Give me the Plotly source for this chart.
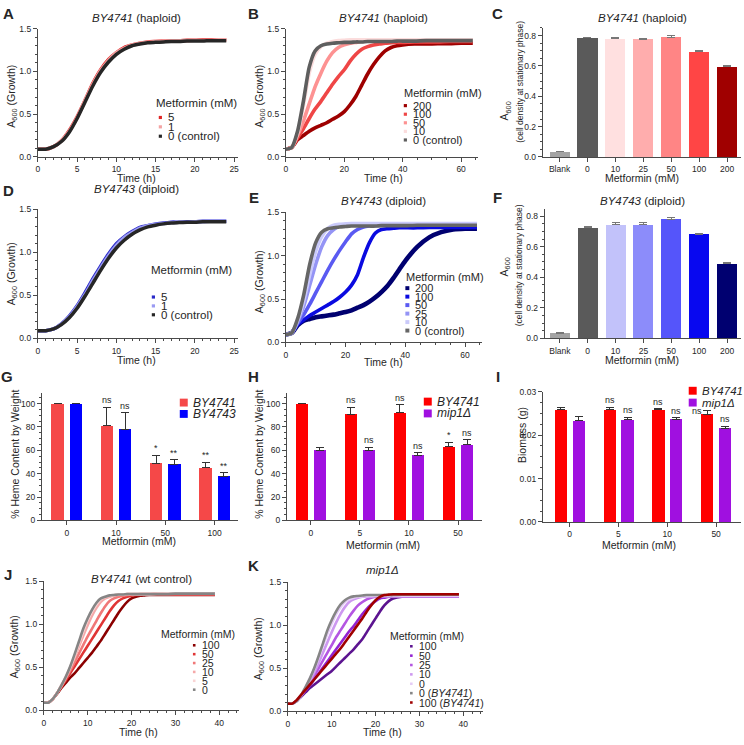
import plotly.graph_objects as go

W, H = 744, 745
FONT = "Liberation Sans, Arial, sans-serif"
INK = "#262626"
AX = "#4a4a4a"

# ================= DATA =================
# Panels A / D : time (h)
t_AD = list(range(0, 25))
A_5 = [0.09, 0.09, 0.12, 0.19, 0.31, 0.47, 0.66, 0.86, 1.02, 1.14, 1.22, 1.28, 1.31, 1.33, 1.345, 1.35, 1.355, 1.36, 1.36, 1.365, 1.365, 1.37, 1.37, 1.37, 1.37]
A_1 = [0.09, 0.09, 0.12, 0.19, 0.30, 0.46, 0.66, 0.85, 1.01, 1.13, 1.22, 1.27, 1.31, 1.33, 1.34, 1.35, 1.355, 1.36, 1.36, 1.36, 1.365, 1.365, 1.365, 1.37, 1.37]
A_0 = [0.09, 0.09, 0.12, 0.18, 0.29, 0.45, 0.64, 0.83, 0.99, 1.11, 1.20, 1.26, 1.30, 1.32, 1.335, 1.34, 1.345, 1.35, 1.35, 1.355, 1.355, 1.355, 1.36, 1.36, 1.36]
D_5 = [0.09, 0.09, 0.11, 0.17, 0.26, 0.38, 0.53, 0.69, 0.84, 0.98, 1.10, 1.18, 1.24, 1.29, 1.31, 1.33, 1.34, 1.35, 1.35, 1.355, 1.355, 1.36, 1.36, 1.36, 1.36]
D_1 = [0.09, 0.09, 0.11, 0.17, 0.25, 0.37, 0.51, 0.67, 0.82, 0.96, 1.08, 1.17, 1.23, 1.28, 1.31, 1.325, 1.335, 1.345, 1.35, 1.35, 1.355, 1.355, 1.36, 1.36, 1.36]
D_0 = [0.09, 0.09, 0.11, 0.16, 0.24, 0.35, 0.49, 0.64, 0.79, 0.93, 1.05, 1.14, 1.21, 1.26, 1.295, 1.315, 1.33, 1.34, 1.345, 1.35, 1.35, 1.355, 1.355, 1.355, 1.355]

# Panels B / E : time (h)
t_BE = [0, 2, 4, 6, 8, 10, 12, 14, 16, 18, 20, 22, 24, 26, 28, 30, 32, 34, 36, 38, 40, 44, 48, 52, 56, 60, 64]
B_200 = [0.09, 0.11, 0.20, 0.25, 0.30, 0.34, 0.37, 0.40, 0.44, 0.48, 0.53, 0.61, 0.71, 0.84, 0.97, 1.08, 1.17, 1.24, 1.28, 1.30, 1.31, 1.32, 1.32, 1.325, 1.325, 1.33, 1.33]
B_100 = [0.09, 0.11, 0.22, 0.33, 0.45, 0.56, 0.65, 0.75, 0.85, 0.94, 1.02, 1.12, 1.20, 1.26, 1.29, 1.31, 1.32, 1.33, 1.335, 1.34, 1.34, 1.345, 1.345, 1.345, 1.35, 1.35, 1.35]
B_50 = [0.09, 0.11, 0.25, 0.42, 0.62, 0.82, 0.98, 1.12, 1.22, 1.28, 1.31, 1.33, 1.34, 1.35, 1.355, 1.36, 1.36, 1.36, 1.36, 1.36, 1.365, 1.365, 1.365, 1.365, 1.365, 1.365, 1.365]
B_10 = [0.09, 0.11, 0.28, 0.60, 0.98, 1.20, 1.29, 1.33, 1.35, 1.36, 1.365, 1.37, 1.37, 1.37, 1.37, 1.37, 1.37, 1.37, 1.37, 1.37, 1.37, 1.37, 1.37, 1.37, 1.37, 1.37, 1.37]
B_0 = [0.09, 0.11, 0.30, 0.65, 1.05, 1.24, 1.30, 1.32, 1.33, 1.335, 1.34, 1.34, 1.345, 1.345, 1.35, 1.35, 1.35, 1.35, 1.35, 1.355, 1.355, 1.355, 1.36, 1.36, 1.36, 1.36, 1.36]
E_200 = [0.09, 0.11, 0.20, 0.25, 0.27, 0.29, 0.30, 0.31, 0.32, 0.335, 0.35, 0.37, 0.40, 0.43, 0.47, 0.52, 0.58, 0.65, 0.74, 0.84, 0.94, 1.10, 1.21, 1.27, 1.30, 1.31, 1.31]
E_100 = [0.09, 0.11, 0.21, 0.26, 0.31, 0.35, 0.39, 0.43, 0.47, 0.52, 0.58, 0.66, 0.78, 0.98, 1.15, 1.26, 1.30, 1.31, 1.315, 1.32, 1.32, 1.32, 1.325, 1.325, 1.325, 1.325, 1.325]
E_50 = [0.09, 0.11, 0.22, 0.32, 0.44, 0.57, 0.70, 0.83, 0.95, 1.06, 1.16, 1.25, 1.30, 1.33, 1.34, 1.345, 1.35, 1.35, 1.35, 1.35, 1.355, 1.355, 1.355, 1.355, 1.355, 1.355, 1.355]
E_25 = [0.09, 0.11, 0.24, 0.42, 0.66, 0.90, 1.10, 1.23, 1.30, 1.34, 1.35, 1.36, 1.36, 1.365, 1.365, 1.365, 1.365, 1.365, 1.365, 1.365, 1.365, 1.365, 1.365, 1.365, 1.365, 1.365, 1.365]
E_10 = [0.09, 0.11, 0.26, 0.48, 0.78, 1.05, 1.22, 1.31, 1.35, 1.36, 1.365, 1.37, 1.37, 1.37, 1.37, 1.37, 1.37, 1.37, 1.37, 1.37, 1.37, 1.37, 1.37, 1.37, 1.37, 1.37, 1.37]
E_0 = [0.09, 0.11, 0.28, 0.55, 0.90, 1.15, 1.27, 1.31, 1.32, 1.33, 1.335, 1.34, 1.34, 1.34, 1.34, 1.34, 1.345, 1.345, 1.345, 1.345, 1.345, 1.35, 1.35, 1.35, 1.35, 1.35, 1.35]

# Panels C / F : stationary-phase A600
cat_CF = ["Blank", "0", "10", "25", "50", "100", "200"]
C_val = [0.035, 0.785, 0.780, 0.775, 0.790, 0.695, 0.595]
C_err = [0.002, 0.003, 0.008, 0.006, 0.010, 0.005, 0.005]
C_sig = ["", "", "ns", "ns", "ns", "****", "****"]
C_pct = ["", "", "", "", "", "-12%", "-24%"]
F_val = [0.035, 0.725, 0.745, 0.745, 0.780, 0.680, 0.487]
F_err = [0.003, 0.005, 0.012, 0.015, 0.010, 0.008, 0.010]
F_sig = ["", "", "ns", "ns", "***", "**", "****"]
F_pct = ["", "", "", "", "+8%", "-6%", "-33%"]

# Panel G : heme content
cat_G = ["0", "10", "50", "100"]
G_4741 = [100, 81, 49, 45]
G_4741_err = [0, 16, 7, 5]
G_4741_sig = ["", "ns", "*", "**"]
G_4743 = [100, 78, 48, 38]
G_4743_err = [0, 14, 4, 3]
G_4743_sig = ["", "ns", "**", "**"]

# Panel H : heme content
cat_HI = ["0", "5", "10", "50"]
H_4741 = [100, 91, 92, 63]
H_4741_err = [0, 6, 7, 4]
H_4741_sig = ["", "ns", "ns", "*"]
H_mip = [60, 60, 56, 65]
H_mip_err = [2.5, 2.5, 2, 4]
H_mip_sig = ["", "ns", "ns", "ns"]

# Panel I : biomass (g)
I_4741 = [0.0258, 0.0258, 0.0258, 0.0248]
I_4741_err = [0.0005, 0.0006, 0.0003, 0.0008]
I_4741_sig = ["", "ns", "ns", "ns"]
I_mip = [0.0233, 0.0236, 0.0237, 0.0216]
I_mip_err = [0.0010, 0.0005, 0.0003, 0.0005]
I_mip_sig = ["", "ns", "ns", "ns"]

# Panels J / K : time (h)
t_JK = list(range(0, 25)) + [26, 28, 30, 32, 34, 36, 39]
J_100 = [0.09, 0.09, 0.13, 0.19, 0.26, 0.32, 0.38, 0.43, 0.49, 0.55, 0.61, 0.67, 0.74, 0.81, 0.89, 0.97, 1.05, 1.13, 1.20, 1.26, 1.30, 1.32, 1.33, 1.335, 1.34, 1.34, 1.34, 1.34, 1.34, 1.34, 1.34, 1.34]
J_50 = [0.09, 0.09, 0.13, 0.20, 0.27, 0.35, 0.43, 0.51, 0.59, 0.67, 0.75, 0.83, 0.91, 0.99, 1.07, 1.15, 1.22, 1.27, 1.30, 1.32, 1.33, 1.34, 1.34, 1.345, 1.345, 1.345, 1.345, 1.345, 1.345, 1.345, 1.345, 1.345]
J_25 = [0.09, 0.09, 0.13, 0.20, 0.28, 0.37, 0.46, 0.56, 0.66, 0.76, 0.86, 0.95, 1.04, 1.13, 1.21, 1.27, 1.30, 1.32, 1.33, 1.34, 1.345, 1.345, 1.35, 1.35, 1.35, 1.35, 1.35, 1.35, 1.35, 1.35, 1.35, 1.35]
J_10 = [0.09, 0.09, 0.13, 0.20, 0.29, 0.38, 0.49, 0.61, 0.74, 0.87, 0.99, 1.10, 1.19, 1.26, 1.30, 1.32, 1.335, 1.34, 1.345, 1.35, 1.35, 1.35, 1.35, 1.35, 1.35, 1.355, 1.355, 1.355, 1.355, 1.355, 1.355, 1.355]
J_5 = [0.09, 0.09, 0.13, 0.20, 0.29, 0.39, 0.50, 0.63, 0.78, 0.92, 1.05, 1.15, 1.23, 1.29, 1.315, 1.33, 1.34, 1.345, 1.345, 1.35, 1.35, 1.35, 1.35, 1.35, 1.35, 1.355, 1.36, 1.36, 1.36, 1.36, 1.36, 1.36]
J_0 = [0.09, 0.09, 0.13, 0.20, 0.29, 0.39, 0.51, 0.65, 0.80, 0.95, 1.07, 1.17, 1.25, 1.30, 1.32, 1.335, 1.34, 1.345, 1.345, 1.35, 1.35, 1.35, 1.35, 1.35, 1.35, 1.35, 1.35, 1.355, 1.355, 1.355, 1.355, 1.355]
K_100 = [0.09, 0.09, 0.12, 0.17, 0.22, 0.27, 0.31, 0.35, 0.39, 0.43, 0.47, 0.52, 0.57, 0.62, 0.67, 0.72, 0.78, 0.84, 0.92, 1.00, 1.08, 1.16, 1.23, 1.28, 1.31, 1.33, 1.33, 1.33, 1.33, 1.33, 1.33, 1.33]
K_50 = [0.09, 0.09, 0.12, 0.18, 0.24, 0.30, 0.37, 0.44, 0.51, 0.58, 0.65, 0.72, 0.79, 0.86, 0.93, 0.99, 1.06, 1.13, 1.19, 1.24, 1.28, 1.31, 1.32, 1.33, 1.33, 1.33, 1.33, 1.33, 1.33, 1.33, 1.33, 1.33]
K_25 = [0.09, 0.09, 0.12, 0.18, 0.25, 0.33, 0.41, 0.50, 0.59, 0.68, 0.77, 0.86, 0.94, 1.02, 1.10, 1.17, 1.23, 1.27, 1.30, 1.32, 1.33, 1.335, 1.335, 1.335, 1.335, 1.335, 1.335, 1.335, 1.335, 1.335, 1.335, 1.335]
K_10 = [0.09, 0.09, 0.12, 0.18, 0.26, 0.35, 0.45, 0.56, 0.68, 0.80, 0.92, 1.03, 1.13, 1.21, 1.27, 1.30, 1.32, 1.33, 1.335, 1.335, 1.34, 1.34, 1.34, 1.34, 1.34, 1.34, 1.34, 1.34, 1.34, 1.34, 1.34, 1.34]
K_0 = [0.09, 0.09, 0.12, 0.19, 0.28, 0.38, 0.49, 0.62, 0.76, 0.90, 1.02, 1.13, 1.21, 1.27, 1.30, 1.32, 1.33, 1.335, 1.34, 1.34, 1.34, 1.34, 1.34, 1.34, 1.34, 1.34, 1.34, 1.34, 1.34, 1.34, 1.34, 1.34]
K_wt0 = [0.09, 0.09, 0.12, 0.19, 0.28, 0.38, 0.50, 0.64, 0.79, 0.94, 1.06, 1.16, 1.24, 1.29, 1.32, 1.335, 1.34, 1.345, 1.35, 1.35, 1.35, 1.35, 1.35, 1.35, 1.35, 1.355, 1.355, 1.355, 1.355, 1.355, 1.355, 1.355]
K_wt100 = [0.09, 0.09, 0.13, 0.19, 0.25, 0.31, 0.37, 0.43, 0.49, 0.55, 0.61, 0.67, 0.73, 0.80, 0.87, 0.94, 1.01, 1.08, 1.16, 1.23, 1.29, 1.33, 1.35, 1.355, 1.36, 1.36, 1.36, 1.36, 1.36, 1.36, 1.36, 1.36]

# ================= FIGURE =================
fig = go.Figure()
layout = dict(width=W, height=H, margin=dict(l=0, r=0, t=0, b=0),
              paper_bgcolor="white", plot_bgcolor="white", showlegend=False,
              font=dict(family=FONT, color=INK, size=10))
annotations = []
shapes = []


def xdom(l, r):
    return [l / W, r / W]


def ydom(top, bot):
    return [1 - bot / H, 1 - top / H]


def add_axes(i, xl, xr, yt, yb, xrange, yrange, xkw=None, ykw=None):
    s = "" if i == 1 else str(i)
    base = dict(showline=True, linecolor=AX, linewidth=1, ticks="outside", ticklen=4,
                tickwidth=1, tickcolor=AX, tickfont=dict(size=8.5, color=INK, family=FONT),
                showgrid=False, zeroline=False, fixedrange=True)
    xa = dict(base, domain=xdom(xl, xr), range=xrange, anchor="y" + s)
    ya = dict(base, domain=ydom(yt, yb), range=yrange, anchor="x" + s)
    xa.update(xkw or {})
    ya.update(ykw or {})
    layout["xaxis" + s] = xa
    layout["yaxis" + s] = ya


def minor(d):
    return dict(ticks="outside", ticklen=2, tickcolor=AX, dtick=d, showgrid=False)


def text(xp, yp, t, size=10, color=INK, xanchor="center", yanchor="middle", angle=0, bold=False):
    if bold:
        t = "<b>" + t + "</b>"
    annotations.append(dict(x=xp / W, y=1 - yp / H, xref="paper", yref="paper", text=t,
                            showarrow=False, xanchor=xanchor, yanchor=yanchor, textangle=angle,
                            font=dict(size=size, color=color, family=FONT)))


def square(cx, cy, half, color):
    shapes.append(dict(type="rect", xref="paper", yref="paper",
                       x0=(cx - half) / W, x1=(cx + half) / W,
                       y0=1 - (cy + half) / H, y1=1 - (cy - half) / H,
                       fillcolor=color, line=dict(width=0)))


def curve_legend(tx, ty, bx, y0, dy, items, size, half=1.6):
    text(tx, ty, "Metformin (mM)", size=size, xanchor="left")
    for k, (lab, col) in enumerate(items):
        yy = y0 + k * dy
        square(bx, yy, half, col)
        text(bx + 6, yy, lab, size=size, xanchor="left")


def curves(i, t, series, width):
    s = "" if i == 1 else str(i)
    for item in series:
        ys, col = item[0], item[1]
        w = item[2] if len(item) > 2 else width
        fig.add_trace(go.Scatter(x=t, y=ys, mode="lines", line=dict(color=col, width=w, shape="spline", smoothing=0.6),
                                 xaxis="x" + s, yaxis="y" + s, hoverinfo="skip"))


A600_Y = dict(dtick=0.5, tickformat=".1f", minor=minor(0.1))
TS = 11.5   # panel title size
AS = 10.5   # axis title size

# ---- A ----
add_axes(1, 36, 237, 24, 154, [0, 25.5], [0, 1.5], dict(dtick=5, minor=minor(1)), A600_Y)
cA = {"5": "#e02525", "1": "#f4a3a3", "0": "#262626"}
curves(1, t_AD, [(A_5, cA["5"]), (A_1, cA["1"]), (A_0, cA["0"])], 3.5)
text(135, 13, "<i>BY4741</i> (haploid)", size=TS)
text(7, 9, "A", size=15, bold=True)
text(10, 92, "A<sub>600</sub> (Growth)", size=AS, angle=-90)
text(135, 175, "Time (h)", size=AS)
curve_legend(153, 99, 159, 114, 9.5, [("5", cA["5"]), ("1", cA["1"]), ("0 (control)", cA["0"])], 11.5)

# ---- B ----
add_axes(2, 285, 478, 24, 154, [0, 65.8], [0, 1.5], dict(dtick=20, minor=minor(5)), A600_Y)
cB = {"200": "#9e0000", "100": "#ef4646", "50": "#fd9292", "10": "#fbdcdc", "0": "#5e5e5e"}
curves(2, t_BE, [(B_200, cB["200"]), (B_100, cB["100"]), (B_50, cB["50"]), (B_10, cB["10"]), (B_0, cB["0"])], 3.6)
text(383, 13, "<i>BY4741</i> (haploid)", size=TS)
text(253, 9, "B", size=15, bold=True)
text(259, 92, "A<sub>600</sub> (Growth)", size=AS, angle=-90)
text(383, 175, "Time (h)", size=AS)
curve_legend(402, 89, 405, 102, 8.7, [("200", cB["200"]), ("100", cB["100"]), ("50", cB["50"]), ("10", cB["10"]), ("0 (control)", cB["0"])], 11)

# ---- C ----
add_axes(3, 543, 742, 23, 154, [-0.6, 6.5], [0, 0.852],
         dict(type="category", categoryorder="array", categoryarray=cat_CF),
         dict(dtick=0.2, tickformat=".1f", minor=minor(0.05)))
colC = ["#a3a3a3", "#5a5a5a", "#ffe0e0", "#ffadad", "#ff8585", "#ff4545", "#a00000"]
fig.add_trace(go.Bar(x=cat_CF, y=C_val, width=0.72, marker=dict(color=colC, line=dict(width=0)),
                     error_y=dict(type="data", array=C_err, arrayminus=[0] * 7, symmetric=False, color="#777777", thickness=1, width=4),
                     xaxis="x3", yaxis="y3", hoverinfo="skip"))
for c, v, e, sg, pc in zip(cat_CF, C_val, C_err, C_sig, C_pct):
    if sg:
        annotations.append(dict(x=c, y=v + e, xref="x3", yref="y3", text=sg, showarrow=False, yanchor="bottom", yshift=1,
                                font=dict(size=9, color=INK, family=FONT)))
    if pc:
        annotations.append(dict(x=c, y=v, xref="x3", yref="y3", text=pc, showarrow=False, yanchor="middle", yshift=-13,
                                font=dict(size=9, color="white", family=FONT)))
text(643, 13, "<i>BY4741</i> (haploid)", size=TS)
text(498, 9, "C", size=15, bold=True)
text(505, 107, "A<sub>600</sub>", size=AS, angle=-90)
text(520, 78, "(cell density at stationary phase)", size=8.5, angle=-90)
text(643, 175, "Metformin (mM)", size=AS)

# ---- D ----
add_axes(4, 36, 237, 207, 338, [0, 25.5], [0, 1.5], dict(dtick=5, minor=minor(1)), A600_Y)
cD = {"5": "#2a2ac8", "1": "#9a9af2", "0": "#262626"}
curves(4, t_AD, [(D_5, cD["5"]), (D_1, cD["1"]), (D_0, cD["0"])], 3.5)
text(135, 187, "<i>BY4743</i> (diploid)", size=TS)
text(7, 188, "D", size=15, bold=True)
text(10, 272, "A<sub>600</sub> (Growth)", size=AS, angle=-90)
text(135, 360, "Time (h)", size=AS)
curve_legend(148, 269, 152, 296, 9, [("5", cD["5"]), ("1", cD["1"]), ("0 (control)", cD["0"])], 11.5)

# ---- E ----
add_axes(5, 285, 482, 210, 342, [0, 65.7], [0, 1.5], dict(dtick=20, minor=minor(5)), A600_Y)
cE = {"200": "#000070", "100": "#0a0ae0", "50": "#5a5af2", "25": "#9494f5", "10": "#cacafa", "0": "#666666"}
curves(5, t_BE, [(E_200, cE["200"], 4.6), (E_100, cE["100"]), (E_50, cE["50"]), (E_25, cE["25"]), (E_10, cE["10"]), (E_0, cE["0"])], 3.6)
text(383, 199, "<i>BY4743</i> (diploid)", size=TS)
text(253, 195, "E", size=15, bold=True)
text(259, 280, "A<sub>600</sub> (Growth)", size=AS, angle=-90)
text(383, 362, "Time (h)", size=AS)
curve_legend(404, 276, 407, 287, 8.6, [("200", cE["200"]), ("100", cE["100"]), ("50", cE["50"]), ("25", cE["25"]), ("10", cE["10"]), ("0 (control)", cE["0"])], 11, half=2)

# ---- F ----
add_axes(6, 545, 742, 207, 338, [-0.54, 6.5], [0, 0.845],
         dict(type="category", categoryorder="array", categoryarray=cat_CF),
         dict(dtick=0.2, tickformat=".1f", minor=minor(0.05)))
colF = ["#a3a3a3", "#5a5a5a", "#c2c2fa", "#8c8cfa", "#5555fa", "#0808f0", "#000070"]
fig.add_trace(go.Bar(x=cat_CF, y=F_val, width=0.72, marker=dict(color=colF, line=dict(width=0)),
                     error_y=dict(type="data", array=F_err, arrayminus=[0] * 7, symmetric=False, color="#777777", thickness=1, width=4),
                     xaxis="x6", yaxis="y6", hoverinfo="skip"))
for c, v, e, sg, pc in zip(cat_CF, F_val, F_err, F_sig, F_pct):
    if sg:
        annotations.append(dict(x=c, y=v + e, xref="x6", yref="y6", text=sg, showarrow=False, yanchor="bottom", yshift=1,
                                font=dict(size=9, color=INK, family=FONT)))
    if pc:
        annotations.append(dict(x=c, y=v, xref="x6", yref="y6", text=pc, showarrow=False, yanchor="middle", yshift=-13,
                                font=dict(size=9, color="white", family=FONT)))
text(643, 199, "<i>BY4743</i> (diploid)", size=TS)
text(498, 195, "F", size=15, bold=True)
text(505, 265, "A<sub>600</sub>", size=AS, angle=-90)
text(520, 264, "(cell density at stationary phase)", size=8.5, angle=-90)
text(643, 360, "Metformin (mM)", size=AS)


# ---- grouped bar helper ----
def group_bars(i, cats, vals, errs, sigs, color, offset, err_color="#333333", special=None):
    s = str(i)
    special = special or {}
    fig.add_trace(go.Bar(x=cats, y=vals, width=0.25, offset=offset, marker=dict(color=color, line=dict(width=0)),
                         error_y=dict(type="data", array=errs, arrayminus=[0] * len(errs), symmetric=False,
                                      color=err_color, thickness=1, width=4),
                         xaxis="x" + s, yaxis="y" + s, hoverinfo="skip"))
    for k, (c, v, e, sg) in enumerate(zip(cats, vals, errs, sigs)):
        if sg:
            dx, ya = special.get(k, (0, "bottom"))
            annotations.append(dict(x=k + offset + 0.125 + dx, y=v + e, xref="x" + s, yref="y" + s, text=sg, showarrow=False,
                                    yanchor=ya, yshift=0, font=dict(size=9, color=INK, family=FONT)))


def bar_legend(x0, y0, dy, items, size=12):
    for k, (lab, col) in enumerate(items):
        yy = y0 + k * dy
        square(x0 + 4.5, yy, 4, col)
        text(x0 + 12, yy, lab, size=size, xanchor="left")


cat_ax = lambda cats: dict(type="category", categoryorder="array", categoryarray=cats)

# ---- G ----
add_axes(7, 40, 237, 393, 522.5, [-0.505, 3.475], [0, 109.3], cat_ax(cat_G),
         dict(dtick=20, minor=minor(5)))
group_bars(7, cat_G, G_4741, G_4741_err, G_4741_sig, "#f54848", -0.31)
group_bars(7, cat_G, G_4743, G_4743_err, G_4743_sig, "#0000ff", 0.06)
text(5, 377, "G", size=15, bold=True)
text(13, 455, "% Heme Content by Weight", size=AS, angle=-90)
text(138, 543, "Metformin (mM)", size=AS)
bar_legend(178, 403, 11.5, [("<i>BY4741</i>", "#f54848"), ("<i>BY4743</i>", "#0000ff")])

# ---- H ----
add_axes(8, 286, 482, 393, 522.5, [-0.487, 3.49], [0, 109.3], cat_ax(cat_HI),
         dict(dtick=20, minor=minor(5)))
group_bars(8, cat_HI, H_4741, H_4741_err, H_4741_sig, "#ff0000", -0.31)
group_bars(8, cat_HI, H_mip, H_mip_err, H_mip_sig, "#a010e0", 0.06)
text(253, 377, "H", size=15, bold=True)
text(258, 455, "% Heme Content by Weight", size=AS, angle=-90)
text(383, 547, "Metformin (mM)", size=AS)
bar_legend(423, 402, 12, [("<i>BY4741</i>", "#ff0000"), ("<i>mip1Δ</i>", "#a010e0")])

# ---- I ----
add_axes(9, 543, 742, 392, 524, [-0.55, 3.51], [0, 0.03], cat_ax(cat_HI),
         dict(dtick=0.01, tickformat=".2f", minor=minor(0.0025)))
group_bars(9, cat_HI, I_4741, I_4741_err, I_4741_sig, "#ff0000", -0.306, special={3: (-0.22, "middle")})
group_bars(9, cat_HI, I_mip, I_mip_err, I_mip_sig, "#a010e0", 0.06)
text(498, 377, "I", size=15, bold=True)
text(522, 436, "Biomass (g)", size=AS, angle=-90)
text(640, 547, "Metformin (mM)", size=AS)
bar_legend(689, 391, 12, [("<i>BY4741</i>", "#ff0000"), ("<i>mip1Δ</i>", "#a010e0")], size=11.5)

# ---- J ----
add_axes(10, 42, 238, 584, 715, [0, 44.5], [0, 1.5], dict(dtick=10, minor=minor(2)), A600_Y)
cJ = {"100": "#8b0000", "50": "#e03535", "25": "#f07878", "10": "#f5a9a9", "5": "#f9d4d4", "0": "#858585"}
curves(10, t_JK, [(J_100, cJ["100"]), (J_50, cJ["50"]), (J_25, cJ["25"]), (J_10, cJ["10"]), (J_5, cJ["5"]), (J_0, cJ["0"])], 2.6)
text(140, 582, "<i>BY4741</i> (wt control)", size=TS)
text(6, 577, "J", size=15, bold=True)
text(13, 650, "A<sub>600</sub> (Growth)", size=AS, angle=-90)
text(137, 737, "Time (h)", size=AS)
curve_legend(158, 638, 193, 649, 9, [("100", cJ["100"]), ("50", cJ["50"]), ("25", cJ["25"]), ("10", cJ["10"]), ("5", cJ["5"]), ("0", cJ["0"])], 10.5, half=1.3)

# ---- K ----
add_axes(11, 287, 483, 585, 716, [0, 44.5], [0, 1.5], dict(dtick=10, minor=minor(2)), A600_Y)
cK = {"100": "#5c1490", "50": "#9322d2", "25": "#b456e2", "10": "#cd98f0", "0": "#e4ccf6", "wt0": "#858585", "wt100": "#a00000"}
curves(11, t_JK, [(K_100, cK["100"]), (K_50, cK["50"]), (K_25, cK["25"]), (K_10, cK["10"]), (K_0, cK["0"]),
                  (K_wt0, cK["wt0"]), (K_wt100, cK["wt100"])], 2.6)
text(382, 573, "<i>mip1Δ</i>", size=TS)
text(253, 568, "K", size=15, bold=True)
text(258, 652, "A<sub>600</sub> (Growth)", size=AS, angle=-90)
text(382, 737, "Time (h)", size=AS)
curve_legend(388, 640, 411, 650, 9.5, [("100", cK["100"]), ("50", cK["50"]), ("25", cK["25"]), ("10", cK["10"]), ("0", cK["0"]),
                                       ("0 (<i>BY4741</i>)", cK["wt0"]), ("100 (<i>BY4741</i>)", cK["wt100"])], 10.5, half=1.3)

layout["annotations"] = annotations
layout["shapes"] = shapes
layout["bargap"] = 0
fig.update_layout(**layout)
fig.write_html("out.html", config={"displayModeBar": False, "staticPlot": True},
               post_script="document.body.style.margin='0';document.body.style.overflow='hidden';")
